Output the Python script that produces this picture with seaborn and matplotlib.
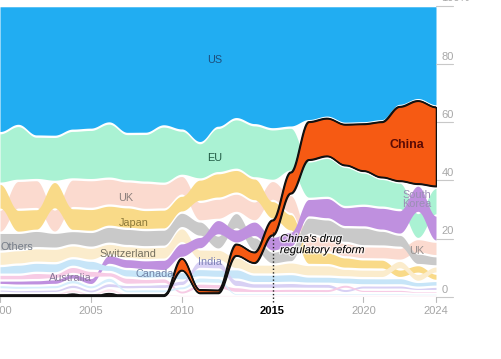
import numpy as np
import matplotlib
matplotlib.use("Agg")
import matplotlib.pyplot as plt
import seaborn as sns
import pandas as pd
from matplotlib import patheffects as pe

# ---------------- data (share of total, %) ----------------
years = list(range(2000, 2025))
us = [44, 41.5, 45, 45, 43.5, 43, 41.5, 44.5, 44.5, 42, 44, 49, 43, 38, 41.5, 43, 41.5, 40, 39, 41, 40.5, 40, 34.5, 32.5, 34.5]
eu = [17.5, 19, 15, 15.5, 17, 17.5, 19.5, 16.5, 17, 20, 16, 13, 16, 17, 18.5, 18, 15, 13, 14, 14, 11.5, 10, 9.5, 9, 9.5]
china = [0.6, 0.4, 0.4, 0.5, 1.4, 0.4, 1.6, 0.4, 0.4, 0.4, 5, 2.0, 1.8, 4.6, 4.5, 6, 8, 14, 14, 15, 17, 20, 26.5, 29.5, 28]
uk = [8, 10, 10, 8, 10, 10, 9.5, 9, 9.5, 9, 7, 7, 7.5, 6.5, 7, 7, 6.5, 5.5, 5, 5, 4.5, 4.5, 4.5, 5, 5]
japan = [9, 8, 7.5, 9.5, 8, 8, 7.5, 7.5, 7, 7, 6, 8, 9, 8, 8, 6.5, 6, 5, 4.5, 4, 3.5, 3.5, 3, 3, 2.5]
others = [6.5, 6, 6, 5.5, 5, 5.5, 6, 6, 6, 6, 5.5, 5.5, 5, 5.5, 5, 4.5, 5, 6, 6.5, 5.5, 6.5, 5.5, 4.5, 4, 3.5]
south_korea = [1.6, 1.8, 1.9, 2, 2, 2.5, 3.5, 3.5, 3.5, 4, 5.2, 4.5, 5.5, 4.8, 5.5, 5.2, 5.5, 6.5, 7.5, 7, 7.5, 8, 8.5, 9.5, 9]
switzerland = [5, 5, 5, 5, 4.5, 4.5, 4, 4.5, 4.5, 4.5, 5.3, 4, 4, 4, 3.5, 3.5, 4, 4, 4, 3, 3, 3, 3, 2.8, 2.5]
canada = [3, 3.5, 3.5, 3.5, 3, 3.5, 2.5, 3, 3, 2.5, 3, 3, 3, 3.5, 3, 3, 3, 2.5, 2.5, 2.5, 2.5, 2.5, 2.5, 2, 2]
india = [1.2, 1.2, 1.3, 1.3, 1.6, 1.4, 1.8, 1.6, 1.6, 1.8, 2, 3, 3, 2.5, 2, 2, 2, 1.8, 1.8, 1.5, 1.5, 1.5, 1.5, 1.2, 1.5]
australia = [2, 2, 2.5, 2, 2.5, 2.5, 2, 2.5, 2, 2, 1.5, 2, 2, 2, 1.5, 1.5, 1.5, 1.5, 1.5, 1.5, 1.2, 1.2, 1.2, 1, 1]
israel = [1.5, 1.5, 1.4, 1.5, 1.7, 1.5, 1.9, 1.4, 1.5, 1.5, 1.5, 2.2, 2.1, 1, 1, 1, 1, 1, 1, 1, 1, 1, 1, 0.8, 0.8]
taiwan = [1.0, 1.0, 1.0, 1.0, 1.5, 1.0, 1.7, 1.0, 1.0, 1.0, 1.0, 1.0, 1.0, 0.5, 0.5, 0.5, 0.5, 0.5, 0.5, 0.5, 0.5, 0.5, 0.5, 0.4, 0.4]

countries = ["US", "EU", "China", "UK", "Japan", "Others", "South Korea",
             "Switzerland", "Canada", "India", "Australia", "Israel", "Taiwan"]
series = [us, eu, china, uk, japan, others, south_korea,
          switzerland, canada, india, australia, israel, taiwan]

colors = {
    "US": "#21adf2", "EU": "#aaf2d3", "China": "#f65a13", "UK": "#fbdacf",
    "Japan": "#f9da88", "Others": "#c9c9c9", "South Korea": "#bf90df",
    "Switzerland": "#fbeccc", "Canada": "#c7e5f8", "India": "#d8d0f4",
    "Australia": "#f7cbe5", "Israel": "#d6eefc", "Taiwan": "#fde3ee",
}

df = pd.DataFrame(dict(zip(countries, series)), index=years)
share = df.div(df.sum(axis=1), axis=0) * 100

# ranked stacking: smallest at bottom each year
bottoms = pd.DataFrame(index=years, columns=countries, dtype=float)
tops = pd.DataFrame(index=years, columns=countries, dtype=float)
for y in years:
    row = share.loc[y].sort_values(kind="stable")
    cum = 0.0
    for c, v in row.items():
        bottoms.loc[y, c] = cum
        tops.loc[y, c] = cum + v
        cum += v

steps = 40
_t = np.linspace(0, 1, steps, endpoint=False)
_e = (1 - np.cos(np.pi * _t)) / 2

def ease(arr):
    arr = np.asarray(arr, dtype=float)
    out = [arr[i] + (arr[i + 1] - arr[i]) * _e for i in range(len(arr) - 1)]
    out.append(arr[-1:])
    return np.concatenate(out)

xs = np.concatenate([years[i] + (years[i + 1] - years[i]) * _t
                     for i in range(len(years) - 1)] + [np.array(years[-1:], float)])

# ---------------- figure ----------------
sns.set_theme(style="white")
plt.rcParams["font.family"] = ["Liberation Sans", "DejaVu Sans"]

fig = plt.figure(figsize=(5.02, 3.59), dpi=100)
ax = fig.add_axes([0, 62 / 359, 436 / 502, (297 - 5.6) / 359])
ax.set_xlim(2000, 2024)
ax.set_ylim(0, 100)

pad = 0.4
draw_order = ["US", "EU", "UK", "Japan", "Others", "Switzerland", "South Korea",
              "Canada", "India", "Australia", "Israel", "Taiwan"]
for c in draw_order:
    lo = ease(bottoms[c].values) + pad
    hi = np.maximum(ease(tops[c].values) - pad, lo + 0.15)
    ax.fill_between(xs, lo, hi, color=colors[c], lw=0)

lo = ease(bottoms["China"].values) + pad
hi = np.maximum(ease(tops["China"].values) - pad, lo + 0.3)
ax.fill_between(xs, lo, hi, facecolor=colors["China"], edgecolor="#111111",
                lw=1.1, zorder=5)
china_edges = pd.DataFrame({"x": np.concatenate([xs, xs]),
                            "y": np.concatenate([lo, hi]),
                            "edge": ["lo"] * len(xs) + ["hi"] * len(xs)})
sns.lineplot(data=china_edges, x="x", y="y", units="edge", estimator=None,
             color="#111111", lw=1.1, ax=ax, zorder=6, legend=False)

ax.set_xticks([]); ax.set_yticks([])
ax.set_xlabel(""); ax.set_ylabel("")
for s in ax.spines.values():
    s.set_visible(False)

# right-side y ticks
for v in [0, 20, 40, 60, 80, 100]:
    ax.plot([2024, 2024.95], [v, v], color="#c8c8c8", lw=0.8, clip_on=False)
    ax.text(2024.3, v + 2.5, "100%" if v == 100 else str(v), color="#a8a8a8",
            fontsize=8, ha="left", va="center", clip_on=False)

# bottom ticks and labels
for yr in [2000, 2005, 2010, 2020, 2024]:
    ax.plot([yr, yr], [0, -1.7], color="#bbbbbb", lw=0.8, clip_on=False)
    ax.text(yr, -4.8, str(yr), color="#a5a5a5", fontsize=8, ha="center",
            va="center", clip_on=False)
ax.plot([2015, 2015], [-1.7, 23], color="#222222", lw=1.0,
        ls=(0, (1, 1.6)), clip_on=False, zorder=7)
ax.text(2015, -4.8, "2015", color="black", fontsize=8, fontweight="bold",
        ha="center", va="center", clip_on=False)

# series labels
labels = [
    ("US", 2011.83, 81.4, "#1d4e7c"),
    ("EU", 2011.83, 47.8, "#1f5a43"),
    ("UK", 2006.93, 34.0, "#8c7f7c"),
    ("Japan", 2007.37, 25.4, "#8d7a3a"),
    ("Switzerland", 2007.04, 14.8, "#757060"),
    ("Others", 2000.94, 17.2, "#767d88"),
    ("Australia", 2003.9, 6.5, "#8a7a9a"),
    ("Canada", 2008.53, 7.9, "#7283a6"),
    ("India", 2011.56, 12.0, "#7c82b5"),
    ("UK", 2022.95, 15.8, "#9a9290"),
]
for txt, x, y, col in labels:
    ax.text(x, y, txt, color=col, fontsize=7.8, ha="center", va="center", zorder=8)
ax.text(2022.95, 33.5, "South\nKorea", color="#9a8fb4", fontsize=7.8,
        ha="center", va="center", linespacing=0.95, zorder=8)
ax.text(2022.4, 52.2, "China", color="#5a0b05", fontsize=9, fontweight="bold",
        ha="center", va="center", zorder=8)
ax.text(2015.41, 18.0, "China's drug\nregulatory reform", color="black",
        fontsize=8, fontstyle="italic", ha="left", va="center",
        linespacing=1.15, zorder=8,
        path_effects=[pe.withStroke(linewidth=2, foreground="white", alpha=0.6)])

fig.savefig("out.png", dpi=100)
